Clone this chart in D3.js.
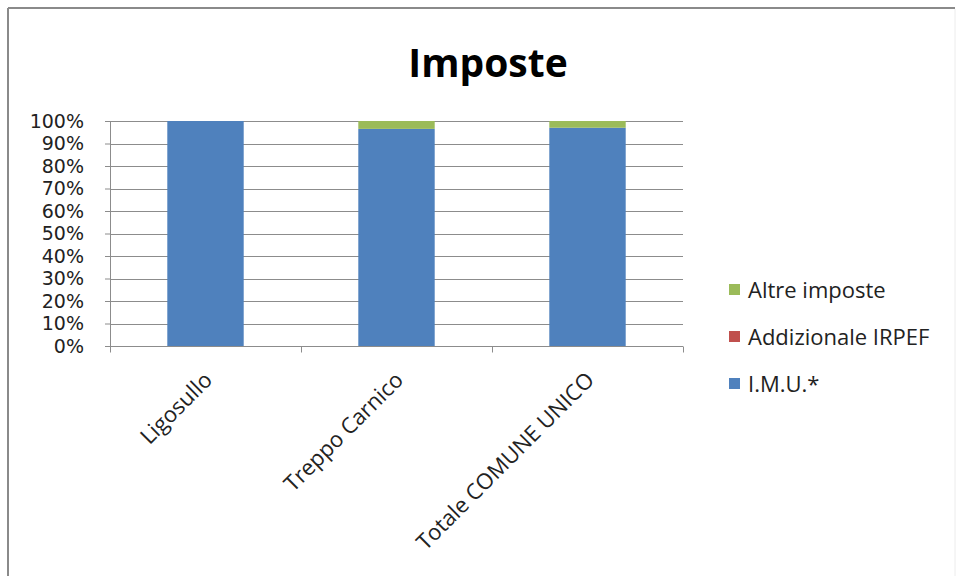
<!DOCTYPE html>
<html>
<head>
<meta charset="utf-8">
<script src="https://cdn.jsdelivr.net/npm/d3@7"></script>
<style>
  body { margin: 0; background: #fff; }
  svg { font-family: "Open Sans", "DejaVu Sans", sans-serif; }
</style>
</head>
<body>
<svg id="chart" width="959" height="576"></svg>
<script>
// categories and series (percent shares)
var categories = ["Ligosullo", "Treppo Carnico", "Totale COMUNE UNICO"];
var imu = [100, 96.5, 97];
var addizionale = [0, 0, 0];
var altre = [0, 3.5, 3];
var seriesNames = ["I.M.U.*", "Addizionale IRPEF", "Altre imposte"];
var seriesColors = ["#4f81bd", "#c0504d", "#9bbb59"];
var yTicks = [0, 10, 20, 30, 40, 50, 60, 70, 80, 90, 100];

var svg = d3.select("#chart");
var width = 959, height = 576;
var margin = { top: 121, left: 110, right: 276, bottom: 230 };

// frame (left and top edges like the original screenshot)
svg.append("line").attr("x1", 8).attr("y1", 8).attr("x2", 955).attr("y2", 8)
  .style("stroke", "#8a8a8a").style("stroke-width", "2px");
svg.append("line").attr("x1", 8).attr("y1", 8).attr("x2", 8).attr("y2", height)
  .style("stroke", "#8a8a8a").style("stroke-width", "2px");
svg.append("line").attr("x1", 955).attr("y1", 9).attr("x2", 955).attr("y2", height)
  .style("stroke", "#ececec").style("stroke-width", "1px");

svg.append("text")
  .attr("x", 488).attr("y", 77)
  .attr("text-anchor", "middle")
  .style("font-size", "39px").style("font-weight", "bold")
  .text("Imposte");

var x = d3.scaleBand()
  .domain(categories)
  .range([margin.left, width - margin.right])
  .paddingInner(0.6).paddingOuter(0.3);

var y = d3.scaleLinear()
  .domain([0, 100])
  .range([height - margin.bottom, margin.top]);

var step = (width - margin.right - margin.left) / categories.length;

// gridlines
svg.selectAll(".grid").data(yTicks).enter().append("line")
  .attr("class", "grid")
  .attr("x1", margin.left).attr("x2", width - margin.right)
  .attr("y1", function(d) { return Math.round(y(d)) + 0.5; })
  .attr("y2", function(d) { return Math.round(y(d)) + 0.5; })
  .style("stroke", "#8c8c8c").style("stroke-width", "1px");

// stacked bars
var stackData = categories.map(function(c, i) {
  return { cat: c, imu: imu[i], add: addizionale[i], altre: altre[i] };
});
var stack = d3.stack().keys(["imu", "add", "altre"]);
var layers = stack(stackData);

svg.selectAll(".layer").data(layers).enter().append("g")
  .attr("class", "layer")
  .style("fill", function(d, i) { return seriesColors[i]; })
  .selectAll("rect").data(function(d) { return d; }).enter().append("rect")
  .attr("x", function(d) { return x(d.data.cat); })
  .attr("width", x.bandwidth())
  .attr("y", function(d) { return y(d[1]); })
  .attr("height", function(d) { return y(d[0]) - y(d[1]); });

// y axis
var yAxis = d3.axisLeft(y).tickValues(yTicks)
  .tickFormat(function(d) { return d + "%"; }).tickSize(5).tickPadding(21);
var yg = svg.append("g").attr("transform", "translate(" + margin.left + ",0)").call(yAxis);
yg.select(".domain").style("stroke", "#8c8c8c");
yg.selectAll(".tick line").style("stroke", "#8c8c8c");
yg.selectAll("text").style("font-size", "19px").style("fill", "#222")
  .style("font-family", "'DejaVu Sans', sans-serif");

// x axis line and ticks at category boundaries
var xBase = Math.round(y(0)) + 0.5;
svg.append("line").attr("x1", margin.left).attr("x2", width - margin.right)
  .attr("y1", xBase).attr("y2", xBase).style("stroke", "#8c8c8c");
svg.selectAll(".xtick").data(d3.range(categories.length + 1)).enter().append("line")
  .attr("x1", function(d) { return Math.round(margin.left + d * step) + 0.5; })
  .attr("x2", function(d) { return Math.round(margin.left + d * step) + 0.5; })
  .attr("y1", xBase).attr("y2", xBase + 6)
  .style("stroke", "#8c8c8c");

svg.selectAll(".xlabel").data(categories).enter().append("text")
  .attr("text-anchor", "end")
  .attr("transform", function(d) {
    var cx = x(d) + x.bandwidth() / 2 + 8;
    return "translate(" + cx + "," + (xBase + 35) + ") rotate(-45)";
  })
  .style("font-size", "22px").style("fill", "#222")
  .text(function(d) { return d; });

// legend
var legendItems = [2, 1, 0];
var lg = svg.selectAll(".legend").data(legendItems).enter().append("g")
  .attr("transform", function(d, i) { return "translate(729," + (290 + i * 47) + ")"; });
lg.append("rect").attr("x", 0).attr("y", -6).attr("width", 11).attr("height", 11)
  .style("fill", function(d) { return seriesColors[d]; });
lg.append("text").attr("x", 19).attr("y", 8)
  .style("font-size", "22px").style("fill", "#222")
  .text(function(d) { return seriesNames[d]; });
</script>
</body>
</html>
